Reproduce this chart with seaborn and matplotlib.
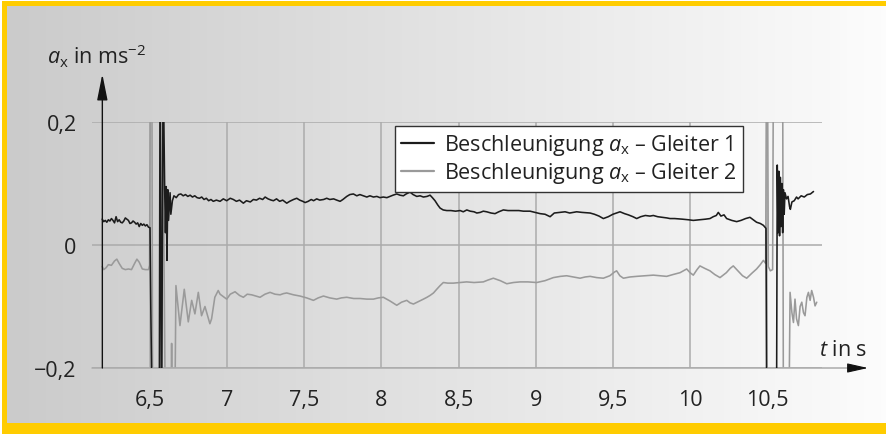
import numpy as np
import pandas as pd
import matplotlib
matplotlib.use("Agg")
import matplotlib.pyplot as plt
from matplotlib.patches import Rectangle
from matplotlib.colors import LinearSegmentedColormap
import seaborn as sns

# ---------------- data ----------------
x_ticks = [6.5, 7.0, 7.5, 8.0, 8.5, 9.0, 9.5, 10.0, 10.5]
x_tick_labels = ["6,5", "7", "7,5", "8", "8,5", "9", "9,5", "10", "10,5"]
y_ticks = [-0.2, 0.0, 0.2]
y_tick_labels = ["\u22120,2", "0", "0,2"]
series_names = ["Beschleunigung $a_{\\mathrm{x}}$ \u2013 Gleiter 1",
                "Beschleunigung $a_{\\mathrm{x}}$ \u2013 Gleiter 2"]

g1_start = [(6.19, 0.042), (6.20, 0.038), (6.21, 0.040), (6.22, 0.037), (6.23, 0.041),
            (6.24, 0.039), (6.25, 0.043), (6.26, 0.040), (6.27, 0.036), (6.28, 0.046),
            (6.29, 0.038), (6.30, 0.041), (6.31, 0.037), (6.32, 0.036), (6.33, 0.039),
            (6.34, 0.044), (6.35, 0.042), (6.36, 0.040), (6.37, 0.035), (6.38, 0.036),
            (6.39, 0.039), (6.40, 0.037), (6.41, 0.034), (6.42, 0.036), (6.43, 0.030),
            (6.44, 0.035), (6.45, 0.032), (6.46, 0.034), (6.47, 0.031), (6.48, 0.033),
            (6.49, 0.029), (6.50, 0.028)]
g1_spike1 = [(6.505, -0.10), (6.515, -0.30), (6.560, -0.30), (6.565, 0.30), (6.575, -0.30),
             (6.585, 0.30), (6.595, 0.090), (6.600, 0.020), (6.605, 0.095), (6.610, -0.025),
             (6.615, 0.090), (6.620, 0.040), (6.630, 0.085), (6.635, 0.050), (6.645, 0.072)]
g1_mid = [(6.655, 0.080), (6.670, 0.077), (6.685, 0.082), (6.700, 0.083), (6.715, 0.080),
          (6.730, 0.082), (6.745, 0.079), (6.760, 0.081), (6.775, 0.078), (6.790, 0.080),
          (6.805, 0.077), (6.820, 0.076), (6.835, 0.078), (6.850, 0.074), (6.865, 0.076),
          (6.880, 0.072), (6.895, 0.074), (6.910, 0.071), (6.930, 0.073), (6.954, 0.071),
          (6.975, 0.075), (6.997, 0.072), (7.020, 0.076), (7.040, 0.074), (7.060, 0.071),
          (7.080, 0.073), (7.105, 0.068), (7.125, 0.072), (7.150, 0.070), (7.170, 0.074),
          (7.190, 0.073), (7.210, 0.076), (7.230, 0.074), (7.246, 0.078), (7.265, 0.075),
          (7.285, 0.073), (7.300, 0.072), (7.320, 0.075), (7.340, 0.071), (7.360, 0.073),
          (7.386, 0.068), (7.405, 0.071), (7.430, 0.074), (7.451, 0.076), (7.470, 0.073),
          (7.490, 0.071), (7.505, 0.069), (7.525, 0.071), (7.545, 0.074), (7.560, 0.072),
          (7.580, 0.075), (7.600, 0.073), (7.625, 0.074), (7.645, 0.076), (7.665, 0.074),
          (7.690, 0.075), (7.710, 0.073), (7.732, 0.071), (7.750, 0.074), (7.775, 0.079),
          (7.795, 0.082), (7.818, 0.083), (7.840, 0.080), (7.860, 0.082), (7.883, 0.080),
          (7.905, 0.078), (7.925, 0.080), (7.948, 0.078), (7.970, 0.079), (7.990, 0.077),
          (8.012, 0.078), (8.035, 0.077), (8.055, 0.079), (8.075, 0.081), (8.099, 0.083),
          (8.120, 0.081), (8.142, 0.080), (8.160, 0.083), (8.185, 0.086), (8.205, 0.082),
          (8.229, 0.079), (8.250, 0.080), (8.272, 0.078), (8.295, 0.079), (8.315, 0.081),
          (8.330, 0.077), (8.347, 0.072), (8.365, 0.065), (8.380, 0.060), (8.400, 0.057),
          (8.423, 0.056), (8.450, 0.056), (8.480, 0.055), (8.510, 0.056), (8.530, 0.054),
          (8.553, 0.057), (8.575, 0.055), (8.600, 0.054), (8.618, 0.052), (8.640, 0.053),
          (8.660, 0.055), (8.682, 0.054), (8.710, 0.052), (8.736, 0.051), (8.760, 0.054),
          (8.790, 0.057), (8.820, 0.056), (8.855, 0.056), (8.890, 0.056), (8.920, 0.055),
          (8.963, 0.055), (8.995, 0.053), (9.028, 0.051), (9.060, 0.050), (9.093, 0.046),
          (9.120, 0.052), (9.157, 0.053), (9.190, 0.054), (9.220, 0.052), (9.265, 0.054),
          (9.300, 0.053), (9.352, 0.052), (9.380, 0.050), (9.410, 0.047), (9.438, 0.043),
          (9.470, 0.046), (9.500, 0.050), (9.546, 0.054), (9.575, 0.051), (9.600, 0.049),
          (9.630, 0.046), (9.654, 0.043), (9.680, 0.046), (9.710, 0.048), (9.740, 0.047),
          (9.762, 0.048), (9.790, 0.046), (9.820, 0.045), (9.850, 0.044), (9.870, 0.043),
          (9.900, 0.043), (9.950, 0.042), (9.990, 0.041), (10.021, 0.040), (10.060, 0.041),
          (10.100, 0.042), (10.129, 0.043), (10.150, 0.046), (10.170, 0.048), (10.183, 0.053),
          (10.200, 0.047), (10.220, 0.049), (10.237, 0.043), (10.270, 0.040), (10.302, 0.038),
          (10.330, 0.040), (10.360, 0.043), (10.388, 0.045), (10.410, 0.041), (10.431, 0.037),
          (10.455, 0.035), (10.475, 0.032), (10.492, 0.027)]
g1_spike2 = [(10.497, -0.30), (10.560, -0.30), (10.565, 0.130), (10.570, 0.020), (10.575, 0.120),
             (10.580, 0.015), (10.585, 0.110), (10.590, 0.030), (10.595, 0.100), (10.600, 0.020),
             (10.605, 0.090), (10.610, 0.050), (10.615, 0.085), (10.625, 0.075), (10.635, 0.079),
             (10.645, 0.062), (10.650, 0.058), (10.660, 0.070), (10.675, 0.072), (10.690, 0.078),
             (10.700, 0.075), (10.720, 0.080), (10.740, 0.078), (10.760, 0.082), (10.780, 0.083),
             (10.800, 0.087)]

g2_start = [(6.19, -0.035), (6.20, -0.040), (6.215, -0.037), (6.23, -0.032), (6.25, -0.033),
            (6.27, -0.026), (6.285, -0.023), (6.30, -0.030), (6.32, -0.038), (6.34, -0.040),
            (6.36, -0.039), (6.38, -0.040), (6.40, -0.030), (6.415, -0.023), (6.43, -0.028),
            (6.45, -0.039), (6.47, -0.040), (6.49, -0.040), (6.497, -0.033)]
g2_spike1 = [(6.503, 0.30), (6.512, 0.30), (6.517, -0.30), (6.575, -0.30), (6.580, 0.30),
             (6.600, -0.30), (6.635, -0.30), (6.640, -0.160), (6.645, -0.30), (6.660, -0.30),
             (6.668, -0.066), (6.694, -0.131), (6.722, -0.072), (6.748, -0.125), (6.770, -0.090),
             (6.791, -0.112), (6.813, -0.077), (6.834, -0.115), (6.856, -0.100), (6.888, -0.128),
             (6.899, -0.120), (6.920, -0.085), (6.942, -0.074)]
g2_mid = [(6.954, -0.080), (6.975, -0.084), (6.997, -0.088), (7.020, -0.080), (7.051, -0.076),
          (7.080, -0.082), (7.105, -0.085), (7.130, -0.080), (7.159, -0.081), (7.185, -0.083),
          (7.213, -0.085), (7.245, -0.080), (7.278, -0.077), (7.310, -0.080), (7.343, -0.081),
          (7.365, -0.079), (7.386, -0.078), (7.430, -0.081), (7.472, -0.083), (7.515, -0.086),
          (7.559, -0.090), (7.590, -0.086), (7.624, -0.083), (7.665, -0.086), (7.710, -0.088),
          (7.740, -0.086), (7.775, -0.085), (7.820, -0.087), (7.861, -0.087), (7.905, -0.088),
          (7.948, -0.088), (7.980, -0.086), (8.012, -0.085), (8.055, -0.091), (8.099, -0.098),
          (8.130, -0.093), (8.164, -0.090), (8.185, -0.094), (8.207, -0.096), (8.240, -0.092),
          (8.272, -0.088), (8.295, -0.085), (8.315, -0.082), (8.337, -0.078), (8.358, -0.072),
          (8.380, -0.066), (8.401, -0.061), (8.430, -0.062), (8.466, -0.062), (8.510, -0.061),
          (8.552, -0.060), (8.600, -0.061), (8.660, -0.060), (8.690, -0.057), (8.725, -0.054),
          (8.770, -0.058), (8.812, -0.063), (8.855, -0.061), (8.898, -0.060), (8.950, -0.060),
          (9.006, -0.061), (9.060, -0.058), (9.114, -0.053), (9.160, -0.051), (9.200, -0.050),
          (9.245, -0.052), (9.287, -0.054), (9.320, -0.052), (9.352, -0.051), (9.395, -0.053),
          (9.438, -0.054), (9.480, -0.050), (9.510, -0.044), (9.524, -0.042), (9.545, -0.050),
          (9.568, -0.054), (9.610, -0.052), (9.654, -0.051), (9.710, -0.050), (9.762, -0.049),
          (9.805, -0.050), (9.848, -0.051), (9.890, -0.048), (9.935, -0.045), (9.978, -0.039),
          (10.000, -0.045), (10.021, -0.049), (10.045, -0.040), (10.064, -0.034), (10.095, -0.038),
          (10.129, -0.042), (10.160, -0.048), (10.194, -0.053), (10.235, -0.045), (10.260, -0.038),
          (10.280, -0.034), (10.310, -0.042), (10.340, -0.050), (10.367, -0.054), (10.400, -0.046),
          (10.431, -0.039), (10.455, -0.032), (10.475, -0.025), (10.490, -0.030)]
g2_spike2 = [(10.495, 0.30), (10.502, 0.30), (10.507, -0.035), (10.520, -0.042), (10.535, -0.040),
             (10.540, 0.30), (10.600, 0.30), (10.605, -0.30), (10.640, -0.30), (10.648, -0.077),
             (10.660, -0.110), (10.670, -0.126), (10.680, -0.088), (10.690, -0.120), (10.702, -0.131),
             (10.713, -0.100), (10.724, -0.093), (10.735, -0.110), (10.745, -0.115), (10.757, -0.085),
             (10.767, -0.077), (10.778, -0.090), (10.788, -0.074), (10.800, -0.085), (10.810, -0.099),
             (10.821, -0.093)]

# ---------------- style ----------------
sns.set_style("white")
plt.rcParams["font.family"] = ["Open Sans", "DejaVu Sans"]
plt.rcParams["mathtext.fontset"] = "custom"
plt.rcParams["mathtext.rm"] = "Open Sans"
plt.rcParams["mathtext.it"] = "Open Sans:italic"
plt.rcParams["mathtext.bf"] = "Open Sans:bold"

W, H = 886, 435
FS = 15.5
TXT = "#222222"
GRID = "#ababab"
YELLOW = "#FFCC00"

fig = plt.figure(figsize=(W / 100, H / 100), dpi=100)
fig.patch.set_facecolor("white")

# background with gradient and yellow frame
bg = fig.add_axes([0, 0, 1, 1], zorder=0)
bg.set_xlim(0, W)
bg.set_ylim(H, 0)
bg.axis("off")
cmap = LinearSegmentedColormap.from_list("g", ["#cbcbcb", "#fcfcfc"])
bg.imshow(np.linspace(0, 1, 256)[None, :], extent=(7, W, 424, 7), aspect="auto",
          cmap=cmap, interpolation="bilinear")
bg.add_patch(Rectangle((2, 2), W, 5, color=YELLOW, lw=0))
bg.add_patch(Rectangle((2, 2), 5, H, color=YELLOW, lw=0))
bg.add_patch(Rectangle((2, 424), W, 12, color=YELLOW, lw=0))

ax = fig.add_axes([92 / W, 1 - 369 / H, 730 / W, 246 / H], zorder=1)
ax.patch.set_alpha(0)


def frame(points, name):
    return pd.DataFrame({"t": [p[0] for p in points], "a": [p[1] for p in points],
                         "s": name})


d1 = frame(g1_start + g1_spike1 + g1_mid + g1_spike2, series_names[0])
d2 = frame(g2_start + g2_spike1 + g2_mid + g2_spike2, series_names[1])

sns.lineplot(data=d2, x="t", y="a", ax=ax, color="#9a9a9a", lw=1.15, sort=False,
             estimator=None, label=series_names[1], zorder=3)
sns.lineplot(data=d1, x="t", y="a", ax=ax, color="#1c1c1c", lw=1.15, sort=False,
             estimator=None, label=series_names[0], zorder=4)

x0, x1 = 6.124, 10.855
ax.set_xlim(x0, x1)
ax.set_ylim(-0.2, 0.2)
for s in ax.spines.values():
    s.set_visible(False)
ax.set_xticks(x_ticks, x_tick_labels)
ax.set_yticks(y_ticks, y_tick_labels)
ax.grid(True, color=GRID, lw=1.1, zorder=1)
ax.tick_params(axis="x", length=5.8, width=1.1, color=GRID, pad=9, labelsize=FS,
               labelcolor=TXT)
ax.tick_params(axis="y", length=0, pad=11, labelsize=FS, labelcolor=TXT)
ax.set_xlabel("")
ax.set_ylabel("")

# x axis (gray) with black arrow head
ax.annotate("", xy=(11.05, -0.2), xytext=(x0, -0.2), annotation_clip=False,
            arrowprops=dict(arrowstyle="-", color=GRID, lw=1.1, shrinkA=0, shrinkB=0))
ax.annotate("", xy=(11.153, -0.2), xytext=(11.03, -0.2), annotation_clip=False,
            arrowprops=dict(arrowstyle="-|>,head_length=0.8,head_width=0.18",
                            mutation_scale=16, color="#111111", lw=0.8,
                            shrinkA=0, shrinkB=0))
# y axis (black) with arrow head
ax.annotate("", xy=(6.191, 0.278), xytext=(6.191, -0.2), annotation_clip=False,
            arrowprops=dict(arrowstyle="-|>,head_length=1.0,head_width=0.2",
                            mutation_scale=16, color="#111111", lw=1.0,
                            shrinkA=0, shrinkB=0), zorder=5)

fig.text(47 / W, 1 - 64 / H, "$a_{\\mathrm{x}}$ in ms$^{-2}$", fontsize=FS, color=TXT,
         ha="left", va="baseline")
fig.text(867 / W, 1 - 356 / H, "$t$ in s", fontsize=FS, color=TXT,
         ha="right", va="baseline")

h, l = ax.get_legend_handles_labels()
order = [l.index(series_names[0]), l.index(series_names[1])]
leg = ax.legend([h[i] for i in order], [l[i] for i in order], loc="upper right",
                bbox_to_anchor=((743 - 92) / 730, (369 - 127) / 246),
                borderaxespad=0, fontsize=FS, frameon=True, fancybox=False,
                framealpha=1, edgecolor="#333333", handlelength=1.55, handletextpad=0.45,
                borderpad=0.3, labelspacing=0.12)
leg.get_frame().set_linewidth(1.0)
leg.set_zorder(10)
for txt in leg.get_texts():
    txt.set_color(TXT)
for line in leg.get_lines():
    line.set_linewidth(1.6)

fig.savefig("out.png", dpi=100, facecolor=fig.get_facecolor())
